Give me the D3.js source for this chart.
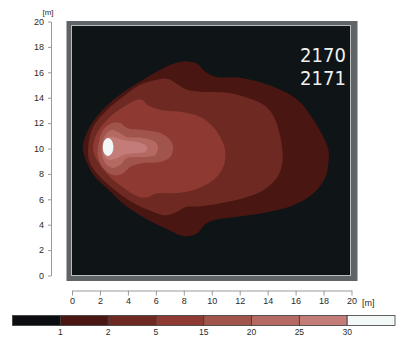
<!DOCTYPE html>
<html>
<head>
<meta charset="utf-8">
<script src="https://cdn.jsdelivr.net/npm/d3@7"></script>
<style>
  body { margin: 0; background: #fff; }
  text { font-family: "Liberation Sans", Arial, sans-serif; }
</style>
</head>
<body>
<svg id="chart"></svg>
<script>
// axis ticks (metres)
var xTicks = [0, 2, 4, 6, 8, 10, 12, 14, 16, 18, 20];
var yTicks = [0, 2, 4, 6, 8, 10, 12, 14, 16, 18, 20];

// colour classes of the legend
var levels = [1, 2, 5, 15, 20, 25, 30];
var classColors = ["#0c0d10", "#4a1612", "#6e2a22", "#8e3a32", "#a0544b", "#b46a62", "#c47c78", "#f2f8f8"];

// contour outlines, [x m, y m], outermost first
var ring1 = [[0.77,10.04],[1.05,11.23],[1.77,12.51],[2.72,13.60],[3.92,14.62],[5.09,15.42],[6.31,16.21],[7.24,16.68],
  [8.24,16.86],[8.96,16.68],[9.53,16.05],[10.25,15.65],[12.04,15.57],[14.41,14.86],[16.13,13.83],[17.28,12.25],
  [17.99,10.91],[18.35,9.88],[18.35,8.85],[18.14,7.75],[17.28,6.48],[15.84,5.53],[13.98,4.98],[11.54,4.58],
  [10.11,4.35],[9.53,4.03],[8.96,3.32],[8.10,3.08],[6.67,3.72],[5.23,4.51],[3.80,5.53],[2.65,6.72],[1.65,7.75],[1.08,8.85]];
var ring2 = [[1.15,10.04],[1.51,11.70],[2.51,13.04],[3.66,14.07],[4.87,15.02],[6.09,15.42],[6.81,15.49],[7.38,15.18],
  [8.24,14.62],[9.18,14.47],[11.11,14.39],[12.97,13.83],[13.98,13.20],[14.55,12.25],[14.91,10.91],[15.05,9.88],
  [15.05,8.85],[14.70,7.75],[13.69,6.72],[12.26,6.09],[10.61,5.69],[9.18,5.45],[8.10,5.38],[7.46,4.98],[6.67,4.74],
  [5.52,5.14],[4.30,5.77],[3.08,6.72],[2.01,7.75],[1.29,8.85]];
var ring3 = [[1.51,9.88],[1.79,11.23],[2.72,12.49],[3.94,13.44],[4.66,13.83],[5.02,13.83],[5.38,13.44],[6.31,13.04],
  [7.74,12.89],[9.18,12.49],[10.11,11.70],[10.82,10.43],[10.97,9.64],[10.82,8.54],[10.11,7.51],[8.67,6.72],
  [7.24,6.48],[6.09,6.48],[5.38,6.17],[4.87,6.17],[3.94,6.72],[2.72,7.75],[1.79,9.09]];
var ring4 = [[1.86,10.04],[2.22,11.46],[2.94,12.02],[3.44,12.02],[3.94,11.62],[5.09,11.46],[6.31,11.23],[7.03,10.67],
  [7.24,10.04],[7.03,9.33],[6.31,8.93],[5.09,8.85],[4.16,8.54],[3.66,8.06],[2.94,7.91],[2.22,8.46],[1.86,9.33]];
var ring5 = [[2.15,10.12],[2.37,11.07],[2.87,11.46],[3.30,11.30],[3.94,10.91],[5.09,10.83],[5.95,10.51],[6.16,10.04],
  [5.95,9.49],[5.09,9.33],[3.94,9.25],[3.44,8.70],[2.87,8.46],[2.37,8.85],[2.15,9.49]];
var ring6 = [[2.22,10.12],[2.51,10.83],[2.94,10.91],[3.66,10.67],[4.66,10.51],[5.23,10.28],[5.38,10.04],[5.23,9.72],
  [4.66,9.64],[3.66,9.49],[3.23,9.25],[2.72,9.09],[2.37,9.33]];
var ring7 = [[2.20,10.12],[2.31,10.62],[2.58,10.83],[2.85,10.62],[2.96,10.12],[2.85,9.62],[2.58,9.41],[2.31,9.62]];

var labelLines = ["2170", "2171"];

var W = 397, H = 337;
var svg = d3.select("#chart").attr("width", W).attr("height", H);

var x = d3.scaleLinear().domain([0, 20]).range([72, 351.5]);
var y = d3.scaleLinear().domain([0, 20]).range([275.5, 21.5]);

// frame
svg.append("rect")
  .attr("x", x(0) - 5.5).attr("y", y(20) - 0.5)
  .attr("width", x(20) - x(0) + 11.5).attr("height", y(0) - y(20) + 6)
  .attr("fill", "#5f6467");
svg.append("rect")
  .attr("x", x(0) - 0.5).attr("y", y(20) + 4)
  .attr("width", x(20) - x(0) - 0.5).attr("height", y(0) - y(20) - 4)
  .attr("fill", "#0f1417")
  .attr("stroke", "#b9bdbf").attr("stroke-width", 1);

// contours
var line = d3.line()
  .x(d => x(d[0]))
  .y(d => y(d[1]))
  .curve(d3.curveCatmullRomClosed.alpha(0.5));

var rings = [ring1, ring2, ring3, ring4, ring5, ring6, ring7];
svg.append("g")
  .selectAll("path")
  .data(rings)
  .join("path")
    .attr("d", line)
    .attr("fill", (d, i) => classColors[i + 1]);

// label
svg.append("g")
  .selectAll("text")
  .data(labelLines)
  .join("text")
    .attr("x", 323)
    .attr("y", (d, i) => 62 + i * 23)
    .attr("text-anchor", "middle")
    .style("font-family", "'Liberation Sans Narrow', 'DejaVu Sans Condensed', sans-serif")
    .style("font-size", "20px")
    .attr("fill", "#eef2f2")
    .text(d => d);

// y axis
var yAxis = svg.append("g")
  .attr("transform", "translate(51,0)")
  .call(d3.axisLeft(y).tickValues(yTicks).tickSize(3).tickPadding(4).tickSizeOuter(0));
// x axis
var xAxis = svg.append("g")
  .attr("transform", "translate(0,290.5)")
  .call(d3.axisBottom(x).tickValues(xTicks).tickSize(5).tickPadding(2).tickSizeOuter(0));

[yAxis, xAxis].forEach(function(a) {
  a.select(".domain").attr("stroke", "#9a9a9a");
  a.selectAll(".tick line").attr("stroke", "#9a9a9a");
  a.selectAll(".tick text").attr("fill", "#2a2a2a").style("font-size", "9px");
});

svg.append("text").attr("x", 48).attr("y", 15)
  .attr("text-anchor", "middle").style("font-size", "8px").attr("fill", "#2a2a2a").text("[m]");
svg.append("text").attr("x", 362).attr("y", 306)
  .style("font-size", "9px").attr("fill", "#2a2a2a").text("[m]");

// colour legend
var c = d3.scaleLinear().domain([0, classColors.length]).range([12.5, 395]);
var legend = svg.append("g");
legend.selectAll("rect")
  .data(classColors)
  .join("rect")
    .attr("x", (d, i) => c(i))
    .attr("y", 315.5)
    .attr("width", (d, i) => c(i + 1) - c(i))
    .attr("height", 10)
    .attr("fill", d => d)
    .attr("stroke", "#3a3a3a")
    .attr("stroke-width", 0.8);
legend.selectAll("text")
  .data(levels)
  .join("text")
    .attr("x", (d, i) => c(i + 1))
    .attr("y", 335)
    .attr("text-anchor", "middle")
    .style("font-size", "8.5px")
    .attr("fill", "#2a2a2a")
    .text(d => d);
</script>
</body>
</html>
